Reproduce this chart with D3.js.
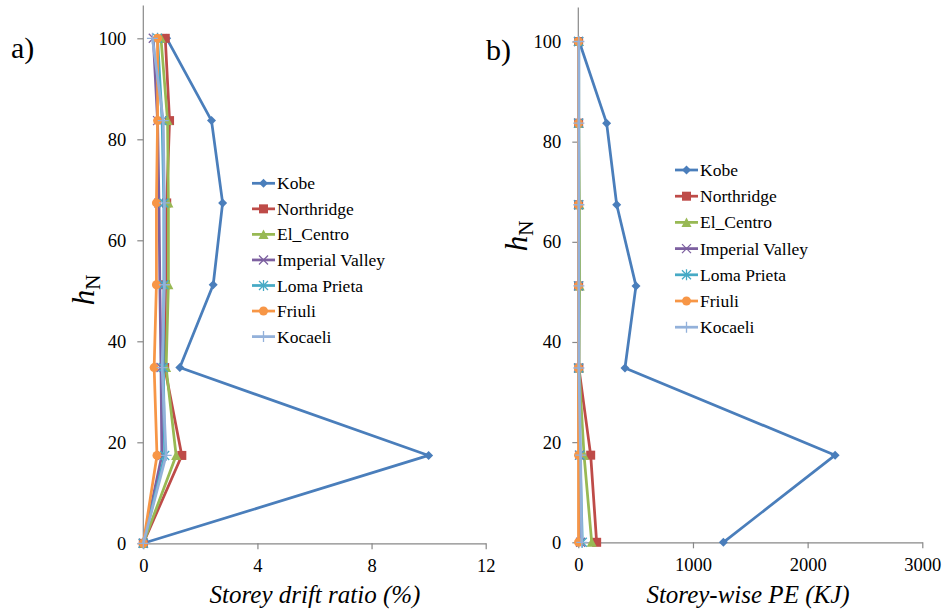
<!DOCTYPE html>
<html><head><meta charset="utf-8">
<script src="https://cdn.jsdelivr.net/npm/d3@7"></script>
<style>body{margin:0;background:#fff} svg{display:block}</style>
</head><body><svg id="c" width="944" height="611" font-family="Liberation Serif"></svg>
<script>
// ---- data ----
const heights = [0, 17.4, 34.8, 51.2, 67.4, 83.7, 100];
const seriesNames = ["Kobe","Northridge","El_Centro","Imperial Valley","Loma Prieta","Friuli","Kocaeli"];
// storey drift ratio (%)
const driftKobe       = [0, 10.0, 1.28, 2.45, 2.78, 2.39, 0.82];
const driftNorthridge = [0, 1.35, 0.75, 0.78, 0.82, 0.92, 0.77];
const driftElCentro   = [0, 1.15, 0.80, 0.88, 0.88, 0.85, 0.62];
const driftImperial   = [0, 0.65, 0.62, 0.58, 0.55, 0.50, 0.35];
const driftLoma       = [0, 0.75, 0.70, 0.72, 0.72, 0.66, 0.50];
const driftFriuli     = [0, 0.48, 0.38, 0.46, 0.46, 0.50, 0.50];
const driftKocaeli    = [0, 0.80, 0.66, 0.74, 0.74, 0.70, 0.32];
// storey-wise PE (KJ)
const peKobe       = [1265, 2240, 407, 503, 335, 247, 8];
const peNorthridge = [160, 108, 5, 3, 3, 3, 3];
const peElCentro   = [117, 50, 6, 12, 10, 4, 3];
const peImperial   = [20, 10, 2, 2, 2, 2, 2];
const peLoma       = [35, 15, 3, 3, 3, 3, 3];
const peFriuli     = [2, 2, 1, 1, 1, 1, 1];
const peKocaeli    = [30, 20, 5, 5, 5, 5, 5];
const yTicks = [0, 20, 40, 60, 80, 100];
const driftTicks = [0, 4, 8, 12];
const peTicks = [0, 1000, 2000, 3000];

const colors = ["#4A7EBB","#BE4B48","#98B954","#7D60A0","#46AAC5","#F79646","#93B1DA"];
const markers = ["diamond","square","triangle","x","star","circle","plus"];

const svg = d3.select("#c");
const FONT = "Liberation Serif";
const AX = "#888888";

function drawMarker(g, type, x, y, color) {
  const s = 4.5;
  if (type === "diamond") {
    g.append("path").attr("d", `M${x},${y-s}L${x+s},${y}L${x},${y+s}L${x-s},${y}Z`).attr("fill", color);
  } else if (type === "square") {
    g.append("rect").attr("x", x-s).attr("y", y-s).attr("width", 2*s).attr("height", 2*s).attr("fill", color);
  } else if (type === "triangle") {
    g.append("path").attr("d", `M${x},${y-s-0.5}L${x+s+0.5},${y+s}L${x-s-0.5},${y+s}Z`).attr("fill", color);
  } else if (type === "circle") {
    g.append("circle").attr("cx", x).attr("cy", y).attr("r", s).attr("fill", color);
  } else if (type === "x") {
    g.append("path").attr("d", `M${x-s},${y-s}L${x+s},${y+s}M${x-s},${y+s}L${x+s},${y-s}`).attr("stroke", color).attr("stroke-width", 1.3);
  } else if (type === "star") {
    g.append("path").attr("d", `M${x-s},${y-s}L${x+s},${y+s}M${x-s},${y+s}L${x+s},${y-s}M${x},${y-s-1}L${x},${y+s+1}`).attr("stroke", color).attr("stroke-width", 1.3);
  } else if (type === "plus") {
    g.append("path").attr("d", `M${x-s-1},${y}L${x+s+1},${y}M${x},${y-s-1}L${x},${y+s+1}`).attr("stroke", color).attr("stroke-width", 1.3);
  }
}

function txt(sel, size, italic) {
  sel.attr("font-family", FONT).attr("font-size", size).style("font-family", FONT);
  if (italic) sel.attr("font-style", "italic");
  return sel;
}

function panel(cfg) {
  const x = d3.scaleLinear().domain(cfg.xDomain).range(cfg.xRange);
  const y = d3.scaleLinear().domain([0, 100]).range(cfg.yRange);
  const g = svg.append("g");

  // x axis
  const xa = g.append("g").attr("transform", `translate(0,${y(0)})`)
    .call(d3.axisBottom(x).tickValues(cfg.xTicks).tickFormat(d3.format("d")).tickSize(6).tickSizeOuter(0).tickPadding(10));
  xa.attr("font-family", FONT).attr("font-size", 18);
  xa.select(".domain").attr("stroke", AX).attr("stroke-width", 1.2);
  xa.selectAll(".tick line").attr("stroke", AX).attr("stroke-width", 1.2);
  txt(xa.selectAll(".tick text"), 18.5).attr("fill", "#000");

  // y axis
  const ya = g.append("g").attr("transform", `translate(${x(0)},0)`)
    .call(d3.axisLeft(y).tickValues(yTicks).tickFormat(d3.format("d")).tickSize(6).tickSizeOuter(0).tickPadding(11));
  ya.attr("font-family", FONT).attr("font-size", 18);
  ya.select(".domain").remove();
  ya.selectAll(".tick line").attr("stroke", AX).attr("stroke-width", 1.2);
  txt(ya.selectAll(".tick text"), 18.5).attr("fill", "#000");
  g.append("line").attr("x1", x(0)).attr("x2", x(0)).attr("y1", y(0)).attr("y2", y(cfg.yTop))
    .attr("stroke", AX).attr("stroke-width", 1.2);

  // series
  const line = d3.line().x(d => x(d[0])).y(d => y(d[1]));
  cfg.series.forEach((vals, i) => {
    const pts = vals.map((v, k) => [v, heights[k]]);
    g.append("path").attr("d", line(pts)).attr("fill", "none")
      .attr("stroke", colors[i]).attr("stroke-width", 2.75).attr("stroke-linejoin", "round");
    const mg = g.append("g");
    pts.forEach(p => drawMarker(mg, markers[i], x(p[0]), y(p[1]), colors[i]));
  });

  // legend
  const lg = g.append("g");
  seriesNames.forEach((n, i) => {
    const ly = cfg.legY + i * cfg.legStep;
    lg.append("line").attr("x1", cfg.legX).attr("x2", cfg.legX + 23).attr("y1", ly).attr("y2", ly)
      .attr("stroke", colors[i]).attr("stroke-width", 2.75);
    drawMarker(lg, markers[i], cfg.legX + 11.5, ly, colors[i]);
    txt(lg.append("text").attr("x", cfg.legX + 25).attr("y", ly + 6).text(n), 17.5).attr("fill", "#000");
  });

  // axis titles
  txt(g.append("text").attr("x", cfg.xTitleX).attr("y", 603).attr("text-anchor", "middle").text(cfg.xTitle), 25, true);
  const yt = txt(g.append("text").attr("transform", `translate(${cfg.yTitleX},${cfg.yTitleY}) rotate(-90)`)
    .attr("text-anchor", "middle"), 31);
  yt.append("tspan").attr("font-style", "italic").text("h");
  yt.append("tspan").attr("font-size", 21).attr("dy", 6).text("N");

  // panel label
  txt(g.append("text").attr("x", cfg.labX).attr("y", cfg.labY).text(cfg.label), 30);
}

panel({
  xDomain: [0, 12], xRange: [143.3, 485.7], yRange: [543.3, 38.3], yTop: 106.5,
  xTicks: driftTicks,
  series: [driftKobe, driftNorthridge, driftElCentro, driftImperial, driftLoma, driftFriuli, driftKocaeli],
  legX: 252, legY: 183.3, legStep: 25.55,
  xTitle: "Storey drift ratio (%)", xTitleX: 315,
  yTitleX: 94, yTitleY: 290,
  label: "a)", labX: 11, labY: 58
});
panel({
  xDomain: [0, 3000], xRange: [578.3, 922.3], yRange: [542.3, 41.5], yTop: 106.8,
  xTicks: peTicks,
  series: [peKobe, peNorthridge, peElCentro, peImperial, peLoma, peFriuli, peKocaeli],
  legX: 675, legY: 170, legStep: 26.2,
  xTitle: "Storey-wise PE (KJ)", xTitleX: 748,
  yTitleX: 527, yTitleY: 236,
  label: "b)", labX: 486, labY: 60
});
</script>
</body></html>
